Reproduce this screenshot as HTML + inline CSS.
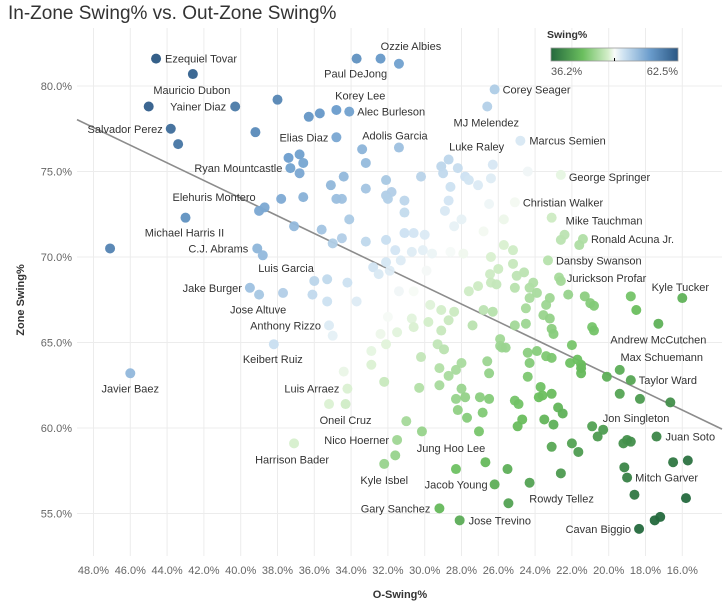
<!DOCTYPE html>
<html><head><meta charset="utf-8"><style>
body{margin:0;background:#fff;}
svg{display:block;font-family:"Liberation Sans","DejaVu Sans",sans-serif;}
</style></head><body>
<svg id="chart" width="726" height="610" viewBox="0 0 726 610" xmlns="http://www.w3.org/2000/svg">
<text x="8" y="19" font-size="19" fill="#333">In-Zone Swing% vs. Out-Zone Swing%</text>
<g id="grid"></g>
<g id="axes"></g>
<g id="trend"></g>
<g id="points"></g>
<g id="labels"></g>
<text transform="translate(24,300) rotate(-90)" text-anchor="middle" font-size="11" font-weight="bold" fill="#333">Zone Swing%</text>
<text x="400" y="598" text-anchor="middle" font-size="11" font-weight="bold" fill="#333">O-Swing%</text>
<g>
<defs><linearGradient id="lg" x1="0" x2="1" y1="0" y2="0">
<stop offset="0" stop-color="#24693d"/><stop offset="0.25" stop-color="#6bbf5e"/><stop offset="0.45" stop-color="#d4eeca"/><stop offset="0.5" stop-color="#f8fbf8"/><stop offset="0.57" stop-color="#cfe3f2"/><stop offset="0.78" stop-color="#6a9ccc"/><stop offset="1" stop-color="#2a5783"/></linearGradient></defs>
<text x="547" y="38" font-size="10.5" font-weight="bold" fill="#333">Swing%</text>
<rect x="551" y="48" width="127" height="13" fill="url(#lg)" stroke="#999" stroke-width="0.8"/>
<line x1="614.5" x2="614.5" y1="58" y2="61" stroke="#000" stroke-width="1"/>
<text x="551" y="75" font-size="11" fill="#555">36.2%</text>
<text x="678" y="75" text-anchor="end" font-size="11" fill="#555">62.5%</text>
</g>
</svg>
<script>
const oSwing=[44.6,42.6,45.0,40.3,38.0,43.8,43.4,39.2,36.3,35.7,34.8,34.1,33.7,32.4,31.4,34.8,33.4,33.2,31.4,37.4,36.8,36.6,37.3,36.8,34.4,35.1,33.2,32.1,32.1,31.8,32.0,37.8,36.6,39.0,38.7,34.8,34.5,43.0,34.1,37.1,35.6,34.5,35.0,33.2,32.1,31.6,47.1,39.1,38.8,32.8,32.1,31.9,36.0,35.3,34.2,39.5,
26.2,26.6,24.8,28.7,29.1,29.0,28.2,27.8,27.6,27.1,26.3,24.4,26.4,22.6,30.2,28.6,31.1,31.1,28.7,28.9,26.5,25.1,28.0,28.4,25.7,23.1,22.4,22.6,21.4,21.6,31.1,30.6,30.0,26.8,30.7,30.1,29.6,28.6,27.9,26.4,25.7,25.2,25.2,26.0,24.6,25.0,26.45,31.3,32.5,29.9,23.3,22.7,22.6,24.1,24.3,25.1,26.4,26.1,27.1,27.6,31.4,30.6,16.0,18.8,22.2,21.3,23.2,24.3,
39.0,37.7,36.1,35.3,33.7,32.0,35.2,35.0,32.4,32.1,31.5,38.2,32.9,32.9,46.0,34.4,32.2,34.2,35.2,34.3,37.1,31.5,31.6,32.2,
23.9,23.4,24.5,21.0,20.8,18.5,29.7,29.1,28.4,26.8,26.3,30.7,30.6,29.8,28.7,29.1,27.4,25.1,24.5,23.55,23.2,23.1,23.0,20.9,20.8,17.3,29.3,28.95,30.2,25.9,25.9,25.8,25.6,22.0,24.4,23.9,23.4,23.1,24.3,21.5,22.1,21.7,21.5,21.5,20.1,19.4,18.8,26.6,26.5,28.0,28.3,29.2,28.7,24.4,30.3,29.2,28.0,28.3,27.8,27.0,26.5,23.7,23.6,23.8,23.1,25.1,24.9,19.4,18.3,16.65,28.2,26.85,27.7,22.75,22.5,24.7,23.5,24.95,23.0,31.0,30.15,27.05,20.9,20.3,20.6,19.0,19.2,18.8,17.4,22.0,23.1,21.65,26.7,28.3,25.5,22.6,16.5,15.7,19.15,19.0,26.2,24.3,18.6,15.8,25.45,29.2,28.1,17.5,17.2,18.35];
const zSwing=[81.6,80.7,78.8,78.8,79.2,77.5,76.6,77.3,78.2,78.4,78.6,78.5,81.6,81.6,81.3,77.0,76.3,75.5,76.4,75.8,76.0,75.5,75.2,74.9,74.7,74.2,74.0,74.5,73.6,73.8,73.4,73.4,73.5,72.7,72.9,73.4,73.4,72.3,72.2,71.8,71.6,71.1,70.8,70.9,71.0,70.4,70.5,70.5,70.1,69.4,69.7,69.2,68.6,68.7,68.5,68.2,
79.8,78.8,76.8,75.7,75.3,74.9,75.2,74.7,74.5,74.2,75.4,75.0,74.6,74.8,74.7,74.1,73.3,72.6,73.3,72.7,73.1,73.2,72.2,71.8,72.2,72.3,71.3,71.0,71.05,70.7,71.4,71.4,71.3,71.5,70.3,70.4,70.2,70.3,70.2,70.0,70.7,70.4,69.6,69.3,69.1,68.9,69.0,69.8,69.0,69.2,69.8,68.8,68.6,68.5,68.2,68.2,68.5,68.4,68.3,68.0,68.0,68.0,67.6,67.7,67.8,67.7,67.6,67.6,
67.8,67.9,67.8,67.4,67.4,66.5,66.0,65.4,65.5,64.9,65.6,64.9,64.5,63.7,63.2,63.3,62.7,62.3,61.4,61.4,59.1,59.3,58.4,57.9,
67.9,67.2,67.0,67.3,67.15,66.9,67.2,66.9,66.8,66.9,66.8,66.4,65.9,66.2,66.3,65.7,66.0,66.0,66.1,66.6,66.4,65.8,65.5,65.9,65.7,66.1,64.9,64.6,64.15,65.2,64.8,64.7,64.7,64.85,64.4,64.5,64.2,64.1,63.8,63.7,63.8,64.0,63.5,63.2,63.0,63.4,62.8,63.9,63.2,63.8,63.4,63.5,63.05,63.0,62.35,62.5,62.3,61.7,61.8,61.8,61.7,62.4,61.9,61.8,62.0,61.6,61.4,62.0,61.7,61.5,61.05,60.9,60.6,61.2,60.85,60.5,60.5,60.1,60.2,60.4,59.8,59.8,60.1,59.9,59.5,59.3,59.1,59.2,59.5,59.1,58.9,58.6,58.0,57.6,57.6,57.35,58.0,58.1,57.7,57.1,56.7,56.8,56.1,55.9,55.6,55.3,54.6,54.6,54.8,54.1];
const xTicks=[48,46,44,42,40,38,36,34,32,30,28,26,24,22,20,18,16];
const yTicks=[80,75,70,65,60,55];
const labelNames=["Ezequiel Tovar","Mauricio Dubon","Yainer Diaz","Salvador Perez","Ozzie Albies","Paul DeJong","Korey Lee","Alec Burleson","Elias Diaz","Adolis Garcia","Ryan Mountcastle","Elehuris Montero","Michael Harris II","C.J. Abrams","Luis Garcia","Jake Burger","Jose Altuve","Anthony Rizzo","Keibert Ruiz","Javier Baez","Luis Arraez","Oneil Cruz","Nico Hoerner","Harrison Bader","Kyle Isbel","Gary Sanchez","Jose Trevino","Jacob Young","Jung Hoo Lee","Rowdy Tellez","Cavan Biggio","Mitch Garver","Juan Soto","Jon Singleton","Taylor Ward","Max Schuemann","Andrew McCutchen","Kyle Tucker","Jurickson Profar","Dansby Swanson","Ronald Acuna Jr.","Mike Tauchman","Christian Walker","George Springer","Marcus Semien","Luke Raley","MJ Melendez","Corey Seager"];
const labelO=[44.6,42.6,40.3,43.8,31.4,33.7,34.1,34.1,34.8,31.4,37.3,39.0,43.0,39.1,37.7,39.5,39.0,35.2,38.2,46.0,34.2,34.3,31.5,37.1,32.2,29.2,28.1,26.2,28.3,24.3,18.35,19.0,17.4,19.0,18.8,19.4,17.3,16.0,22.6,23.3,21.4,23.1,25.1,22.6,24.8,28.7,26.6,26.2];
const labelZ=[81.6,80.7,78.8,77.5,81.3,81.6,78.5,78.5,77.0,76.4,75.2,72.7,72.3,70.5,67.9,68.2,67.8,66.0,64.9,63.2,62.3,61.4,59.3,59.1,57.9,55.3,54.6,56.7,57.6,56.8,54.1,57.1,59.5,59.3,62.8,63.4,66.1,67.6,68.6,69.8,71.05,72.3,73.2,74.8,76.8,75.7,78.8,79.8];
const labelSide=["r","c","l","l","c","c","c","r","l","c","l","c","c","l","c","l","c","l","c","c","l","c","l","c","c","l","r","l","c","c","l","r","r","c","r","c","c","c","r","r","r","r","r","r","r","c","c","r"];
const labelDx=[9,-1,9,8,12,-1,11,8,8,-4,8,-45,-1,9,3,8,-1,8,-1,0,8,0,8,-2,0,9,9,7,-5,32,8,8,9,9,8,42,0,-2,6,8,8,14,8,8,9,28,-1,8];
const labelDy=[0,16,0,0,-18,15,-16,0,0,-12,0,-14,15,0,-25,0,15,0,15,15,0,16,0,16,16,0,0,0,-21,16,0,0,0,-22,0,-13,16,-11,-3,0,0,3,0,2,0,-13,16,0];

const NS="http://www.w3.org/2000/svg";
const L=77,R=722,T=28,B=556;
function xS(v){return 93.5+(48-v)*18.4;}
function yS(v){return 86+(80-v)*17.1;}
function mk(tag,attrs,parent){const e=document.createElementNS(NS,tag);for(const k in attrs)e.setAttribute(k,attrs[k]);parent.appendChild(e);return e;}
const grid=document.getElementById('grid'),axes=document.getElementById('axes');
xTicks.forEach(t=>{
  const g=mk('line',{x1:xS(t),x2:xS(t),y1:T,y2:B,stroke:'#ececec','stroke-width':1},grid);
  
  
  const tx=mk('text',{x:xS(t),y:574,'text-anchor':'middle','font-size':11,fill:'#666'},axes);
  
  
  tx.textContent=t.toFixed(1)+'%';
});
yTicks.forEach(t=>{
  const g=mk('line',{x1:L,x2:R,y1:yS(t),y2:yS(t),stroke:'#ececec','stroke-width':1},grid);
  
  
  const tx=mk('text',{x:72,y:yS(t)+4,'text-anchor':'end','font-size':11,fill:'#666'},axes);
  
  
  tx.textContent=t.toFixed(1)+'%';
});
// trend line via least squares
(function(){
  const n=oSwing.length;let sx=0,sy=0,sxx=0,sxy=0;
  for(let i=0;i<n;i++){sx+=oSwing[i];sy+=zSwing[i];sxx+=oSwing[i]*oSwing[i];sxy+=oSwing[i]*zSwing[i];}
  const m=(n*sxy-sx*sy)/(n*sxx-sx*sx),b=(sy-m*sx)/n;
  const x0=48-(L-93.5)/18.4,x1=48-(R-93.5)/18.4;
  const ln=mk('line',{x1:L,y1:yS(m*x0+b),x2:R,y2:yS(m*x1+b),stroke:'#8c8c8c','stroke-width':1.6},document.getElementById('trend'));
  
  
})();
const stops=[[0,[36,105,61]],[0.25,[107,191,94]],[0.45,[212,238,202]],[0.5,[248,251,248]],[0.57,[207,227,242]],[0.78,[106,156,204]],[1,[42,87,131]]];
function col(s){let f=(s-36.2)/(62.5-36.2);f=Math.max(0,Math.min(1,f));
  for(let i=1;i<stops.length;i++){if(f<=stops[i][0]){const a=stops[i-1],b=stops[i],u=(f-a[0])/(b[0]-a[0]);
    return 'rgb('+a[1].map((c,k)=>Math.round(c+(b[1][k]-c)*u)).join(',')+')';}}
  return 'rgb(42,87,131)';}
const pts=document.getElementById('points');
oSwing.forEach((o,i)=>{
  const z=zSwing[i];
  const c=mk('circle',{cx:xS(o),cy:yS(z),r:5,fill:col((o+z)/2),'fill-opacity':0.95},pts);
  
  
});
const lab=document.getElementById('labels');
labelNames.forEach((nm,i)=>{
  const px=xS(labelO[i]),py=yS(labelZ[i]);const s=labelSide[i];
  let x=s==='l'?px-labelDx[i]:px+labelDx[i];
  const t=mk('text',{x:x,y:py+labelDy[i]+4,'text-anchor':s==='l'?'end':(s==='r'?'start':'middle'),'font-size':11,fill:'#333'},lab);
  
  
  t.textContent=nm;
});
</script>
</body></html>
